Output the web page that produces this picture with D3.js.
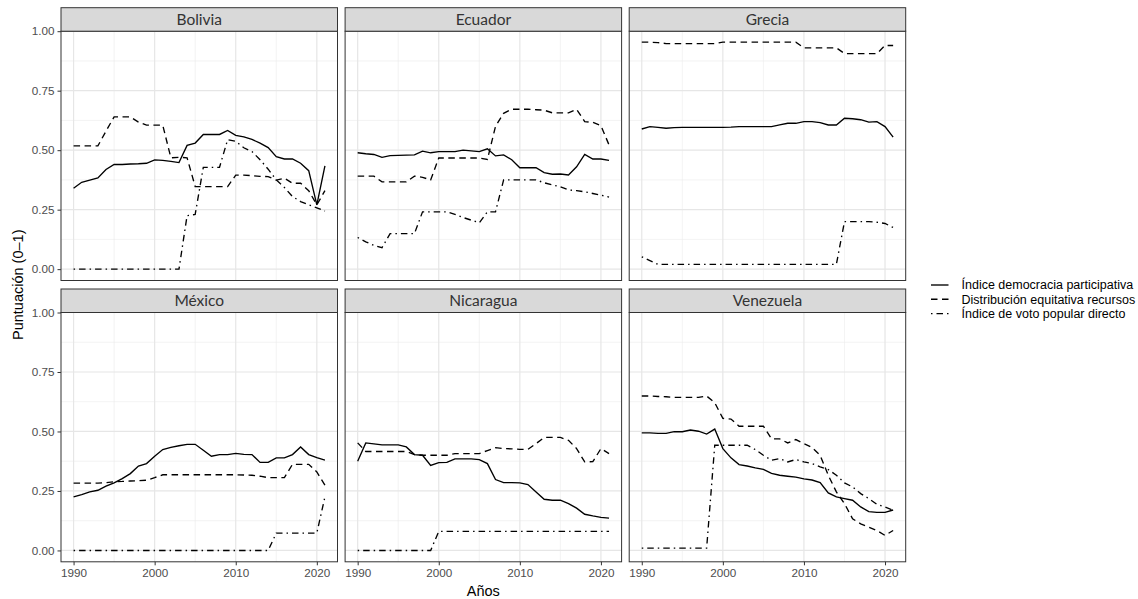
<!DOCTYPE html>
<html>
<head>
<meta charset="utf-8">
<script src="https://cdn.jsdelivr.net/npm/d3@7"></script>
<style>
  body { margin: 0; background: #fff; }
  svg { display: block; }
</style>
</head>
<body>
<svg id="chart" width="1138" height="599"></svg>
<script>
// ------------------------------------------------------------------
//  Facetas por país: tres índices de democracia, 1990-2021
// ------------------------------------------------------------------

var years = [1990, 1991, 1992, 1993, 1994, 1995, 1996, 1997, 1998, 1999,
             2000, 2001, 2002, 2003, 2004, 2005, 2006, 2007, 2008, 2009,
             2010, 2011, 2012, 2013, 2014, 2015, 2016, 2017, 2018, 2019,
             2020, 2021];

var countries = ["Bolivia", "Ecuador", "Grecia", "México", "Nicaragua", "Venezuela"];
var seriesNames = ["Índice democracia participativa",
                   "Distribución equitativa recursos",
                   "Índice de voto popular directo"];
var yTicks = [0, 0.25, 0.5, 0.75, 1];
var xTicks = [1990, 2000, 2010, 2020];

// Bolivia
var boliviaPart = [0.34, 0.365, 0.374, 0.383, 0.419, 0.44, 0.44, 0.442, 0.443, 0.445,
  0.459, 0.457, 0.453, 0.448, 0.52, 0.53, 0.566, 0.566, 0.566, 0.583,
  0.562, 0.556, 0.545, 0.53, 0.511, 0.473, 0.463, 0.463, 0.445, 0.414,
  0.27, 0.434];
var boliviaDist = [0.518, 0.518, 0.518, 0.518, 0.58, 0.64, 0.64, 0.64, 0.618, 0.605,
  0.605, 0.605, 0.468, 0.47, 0.468, 0.347, 0.347, 0.347, 0.347, 0.347,
  0.395, 0.395, 0.393, 0.39, 0.389, 0.374, 0.382, 0.361, 0.361, 0.33,
  0.27, 0.33];
var boliviaVoto = [0, 0, 0, 0, 0, 0, 0, 0, 0, 0,
  0, 0, 0, 0, 0.225, 0.23, 0.428, 0.428, 0.428, 0.544,
  0.537, 0.51, 0.494, 0.46, 0.42, 0.375, 0.343, 0.305, 0.284, 0.27,
  0.258, 0.244];

// Ecuador
var ecuadorPart = [0.489, 0.485, 0.482, 0.47, 0.477, 0.478, 0.479, 0.48, 0.496, 0.489,
  0.494, 0.494, 0.494, 0.5, 0.497, 0.494, 0.506, 0.476, 0.48, 0.46,
  0.426, 0.426, 0.426, 0.406, 0.399, 0.4, 0.396, 0.43, 0.482, 0.463,
  0.463, 0.457];
var ecuadorDist = [0.391, 0.391, 0.391, 0.367, 0.367, 0.367, 0.367, 0.391, 0.386, 0.375,
  0.467, 0.467, 0.467, 0.467, 0.467, 0.467, 0.461, 0.6, 0.655, 0.672,
  0.672, 0.672, 0.67, 0.668, 0.657, 0.657, 0.657, 0.672, 0.62, 0.617,
  0.603, 0.522];
var ecuadorVoto = [0.133, 0.115, 0.1, 0.09, 0.149, 0.149, 0.149, 0.149, 0.241, 0.241,
  0.241, 0.241, 0.23, 0.217, 0.206, 0.195, 0.241, 0.241, 0.375, 0.375,
  0.375, 0.375, 0.375, 0.363, 0.354, 0.346, 0.333, 0.33, 0.325, 0.318,
  0.311, 0.303];

// Grecia
var greciaPart = [0.589, 0.599, 0.596, 0.592, 0.595, 0.596, 0.596, 0.596, 0.596, 0.596,
  0.596, 0.597, 0.599, 0.599, 0.599, 0.599, 0.599, 0.606, 0.613, 0.613,
  0.62, 0.62, 0.616, 0.606, 0.606, 0.634, 0.632, 0.628, 0.618, 0.62,
  0.599, 0.555];
var greciaDist = [0.954, 0.954, 0.952, 0.948, 0.948, 0.948, 0.948, 0.948, 0.948, 0.948,
  0.954, 0.954, 0.954, 0.954, 0.954, 0.954, 0.954, 0.954, 0.954, 0.954,
  0.93, 0.93, 0.93, 0.93, 0.93, 0.906, 0.906, 0.906, 0.906, 0.906,
  0.94, 0.94];
var greciaVoto = [0.052, 0.036, 0.02, 0.02, 0.02, 0.02, 0.02, 0.02, 0.02, 0.02,
  0.02, 0.02, 0.02, 0.02, 0.02, 0.02, 0.02, 0.02, 0.02, 0.02,
  0.02, 0.02, 0.02, 0.02, 0.02, 0.2, 0.2, 0.2, 0.2, 0.197,
  0.192, 0.175];

// México
var mexicoPart = [0.225, 0.235, 0.246, 0.253, 0.27, 0.284, 0.302, 0.323, 0.355, 0.365,
  0.396, 0.424, 0.433, 0.44, 0.446, 0.446, 0.421, 0.396, 0.403, 0.403,
  0.408, 0.404, 0.403, 0.37, 0.37, 0.389, 0.389, 0.403, 0.435, 0.403,
  0.39, 0.38];
var mexicoDist = [0.283, 0.283, 0.283, 0.283, 0.285, 0.289, 0.29, 0.292, 0.293, 0.295,
  0.306, 0.318, 0.318, 0.318, 0.318, 0.318, 0.318, 0.318, 0.318, 0.318,
  0.318, 0.317, 0.316, 0.312, 0.306, 0.306, 0.306, 0.362, 0.362, 0.362,
  0.33, 0.274];
var mexicoVoto = [0, 0, 0, 0, 0, 0, 0, 0, 0, 0,
  0, 0, 0, 0, 0, 0, 0, 0, 0, 0,
  0, 0, 0, 0, 0, 0.073, 0.073, 0.073, 0.073, 0.073,
  0.073, 0.225];

// Nicaragua
var nicaraguaPart = [0.375, 0.452, 0.448, 0.444, 0.444, 0.444, 0.435, 0.403, 0.4, 0.357,
  0.369, 0.37, 0.385, 0.385, 0.385, 0.382, 0.365, 0.298, 0.285, 0.285,
  0.284, 0.277, 0.246, 0.215, 0.211, 0.211, 0.197, 0.178, 0.152, 0.145,
  0.139, 0.136];
var nicaraguaDist = [0.452, 0.416, 0.416, 0.416, 0.416, 0.416, 0.416, 0.403, 0.4, 0.4,
  0.4, 0.4, 0.407, 0.407, 0.407, 0.407, 0.42, 0.432, 0.428, 0.427,
  0.425, 0.425, 0.449, 0.475, 0.475, 0.475, 0.463, 0.428, 0.372, 0.373,
  0.428, 0.407];
var nicaraguaVoto = [0, 0, 0, 0, 0, 0, 0, 0, 0, 0,
  0.08, 0.08, 0.08, 0.08, 0.08, 0.08, 0.08, 0.08, 0.08, 0.08,
  0.08, 0.08, 0.08, 0.08, 0.08, 0.08, 0.08, 0.08, 0.08, 0.08,
  0.08, 0.08];

// Venezuela
var venezuelaPart = [0.494, 0.494, 0.492, 0.492, 0.499, 0.499, 0.506, 0.501, 0.489, 0.51,
  0.428, 0.389, 0.361, 0.355, 0.347, 0.341, 0.324, 0.316, 0.312, 0.308,
  0.301, 0.296, 0.285, 0.242, 0.225, 0.218, 0.211, 0.183, 0.163, 0.16,
  0.16, 0.17];
var venezuelaDist = [0.649, 0.649, 0.647, 0.646, 0.643, 0.643, 0.643, 0.643, 0.649, 0.621,
  0.555, 0.552, 0.522, 0.522, 0.522, 0.522, 0.469, 0.469, 0.452, 0.466,
  0.449, 0.433, 0.4, 0.316, 0.246, 0.197, 0.133, 0.112, 0.098, 0.084,
  0.063, 0.084];
var venezuelaVoto = [0.01, 0.01, 0.01, 0.01, 0.01, 0.01, 0.01, 0.01, 0.01, 0.442,
  0.442, 0.442, 0.442, 0.442, 0.424, 0.4, 0.379, 0.386, 0.372, 0.382,
  0.372, 0.365, 0.351, 0.34, 0.316, 0.284, 0.267, 0.239, 0.218, 0.194,
  0.183, 0.169];

// país -> [participativa, distribución, voto]
var panelData = [
  [boliviaPart, boliviaDist, boliviaVoto],
  [ecuadorPart, ecuadorDist, ecuadorVoto],
  [greciaPart, greciaDist, greciaVoto],
  [mexicoPart, mexicoDist, mexicoVoto],
  [nicaraguaPart, nicaraguaDist, nicaraguaVoto],
  [venezuelaPart, venezuelaDist, venezuelaVoto]
];

// estilos de línea (sólida, guiones, punto-guion)
var dashes = [null, "6.5,4.5", "1.5,4,6.5,4"];

// medidas del layout
var left = 61, panelW = 276.5, gapX = 7.6;
var stripTop = 7.7, stripH = 23.5, panelH = 249.3, rowStep = 281.3;
var tickFont = "'Liberation Sans', Arial, sans-serif";
var stripFont = "Lato, 'Noto Sans', sans-serif";

var svg = d3.select("#chart");

var x = d3.scaleLinear().domain([1988.45, 2022.55]).range([0, panelW]);
var y = d3.scaleLinear().domain([-0.0477, 1.0]).range([panelH, 0]);

var line = d3.line()
  .x(function (d, i) { return x(years[i]); })
  .y(function (d) { return y(d); });

countries.forEach(function (name, k) {
  var col = k % 3, row = Math.floor(k / 3);
  var px = left + col * (panelW + gapX);
  var py = stripTop + stripH + row * rowStep;

  var g = svg.append("g").attr("transform", "translate(" + px + "," + py + ")");

  // fondo + rejilla menor
  g.append("rect").attr("width", panelW).attr("height", panelH).attr("fill", "#fff");
  [0.125, 0.375, 0.625, 0.875].forEach(function (v) {
    g.append("line").attr("x1", 0).attr("x2", panelW)
      .attr("y1", y(v)).attr("y2", y(v))
      .attr("stroke", "#ebebeb").attr("stroke-width", 0.6);
  });
  [1995, 2005, 2015].forEach(function (v) {
    g.append("line").attr("y1", 0).attr("y2", panelH)
      .attr("x1", x(v)).attr("x2", x(v))
      .attr("stroke", "#ebebeb").attr("stroke-width", 0.6);
  });
  // rejilla mayor
  yTicks.forEach(function (v) {
    g.append("line").attr("x1", 0).attr("x2", panelW)
      .attr("y1", y(v)).attr("y2", y(v))
      .attr("stroke", "#e6e6e6").attr("stroke-width", 1.2);
  });
  xTicks.forEach(function (v) {
    g.append("line").attr("y1", 0).attr("y2", panelH)
      .attr("x1", x(v)).attr("x2", x(v))
      .attr("stroke", "#e6e6e6").attr("stroke-width", 1.2);
  });

  // líneas de datos
  panelData[k].forEach(function (vals, s) {
    g.append("path")
      .datum(vals)
      .attr("d", line)
      .attr("fill", "none")
      .attr("stroke", "#000")
      .attr("stroke-width", 1.35)
      .attr("stroke-dasharray", dashes[s]);
  });

  // borde del panel
  g.append("rect").attr("width", panelW).attr("height", panelH)
    .attr("fill", "none").attr("stroke", "#333").attr("stroke-width", 1);

  // tira con el nombre del país
  g.append("rect")
    .attr("x", 0).attr("y", -stripH)
    .attr("width", panelW).attr("height", stripH)
    .attr("fill", "#d9d9d9").attr("stroke", "#333").attr("stroke-width", 1);
  g.append("text")
    .attr("x", panelW / 2).attr("y", -stripH / 2)
    .attr("dy", "0.36em")
    .attr("text-anchor", "middle")
    .attr("font-family", stripFont)
    .attr("font-size", 15.5)
    .attr("fill", "#333")
    .text(name);

  // eje Y sólo en la primera columna
  if (col === 0) {
    var yAxis = g.append("g").call(
      d3.axisLeft(y).tickValues(yTicks).tickFormat(d3.format(".2f")).tickSize(3.5).tickPadding(3)
    );
    yAxis.select(".domain").remove();
    yAxis.selectAll("line").attr("stroke", "#333");
    yAxis.selectAll("text").attr("font-family", tickFont).attr("font-size", 11.7).attr("fill", "#4d4d4d");
  }
  // eje X sólo en la fila inferior
  if (row === 1) {
    var xAxis = g.append("g").attr("transform", "translate(0," + panelH + ")").call(
      d3.axisBottom(x).tickValues(xTicks).tickFormat(d3.format("d")).tickSize(3.5).tickPadding(3)
    );
    xAxis.select(".domain").remove();
    xAxis.selectAll("line").attr("stroke", "#333");
    xAxis.selectAll("text").attr("font-family", tickFont).attr("font-size", 11.7).attr("fill", "#4d4d4d");
  }
});

// títulos de los ejes
var plotRight = left + 3 * panelW + 2 * gapX;
svg.append("text")
  .attr("x", (left + plotRight) / 2).attr("y", 596)
  .attr("text-anchor", "middle")
  .attr("font-family", tickFont).attr("font-size", 14.5)
  .text("Años");

svg.append("text")
  .attr("transform", "translate(23," + ((stripTop + stripH + rowStep + panelH + stripTop) / 2) + ") rotate(-90)")
  .attr("text-anchor", "middle")
  .attr("font-family", tickFont).attr("font-size", 14.5)
  .text("Puntuación (0–1)");

// leyenda
var legend = svg.append("g").attr("transform", "translate(931,285)");
seriesNames.forEach(function (label, s) {
  var row = legend.append("g").attr("transform", "translate(0," + (s * 14.3) + ")");
  row.append("line")
    .attr("x1", 0).attr("x2", 17.5).attr("y1", 0).attr("y2", 0)
    .attr("stroke", "#000").attr("stroke-width", 1.35)
    .attr("stroke-dasharray", dashes[s]);
  row.append("text")
    .attr("x", 30.5).attr("y", 0).attr("dy", "0.35em")
    .attr("font-family", tickFont).attr("font-size", 12.5)
    .attr("fill", "#000")
    .text(label);
});
</script>
</body>
</html>
